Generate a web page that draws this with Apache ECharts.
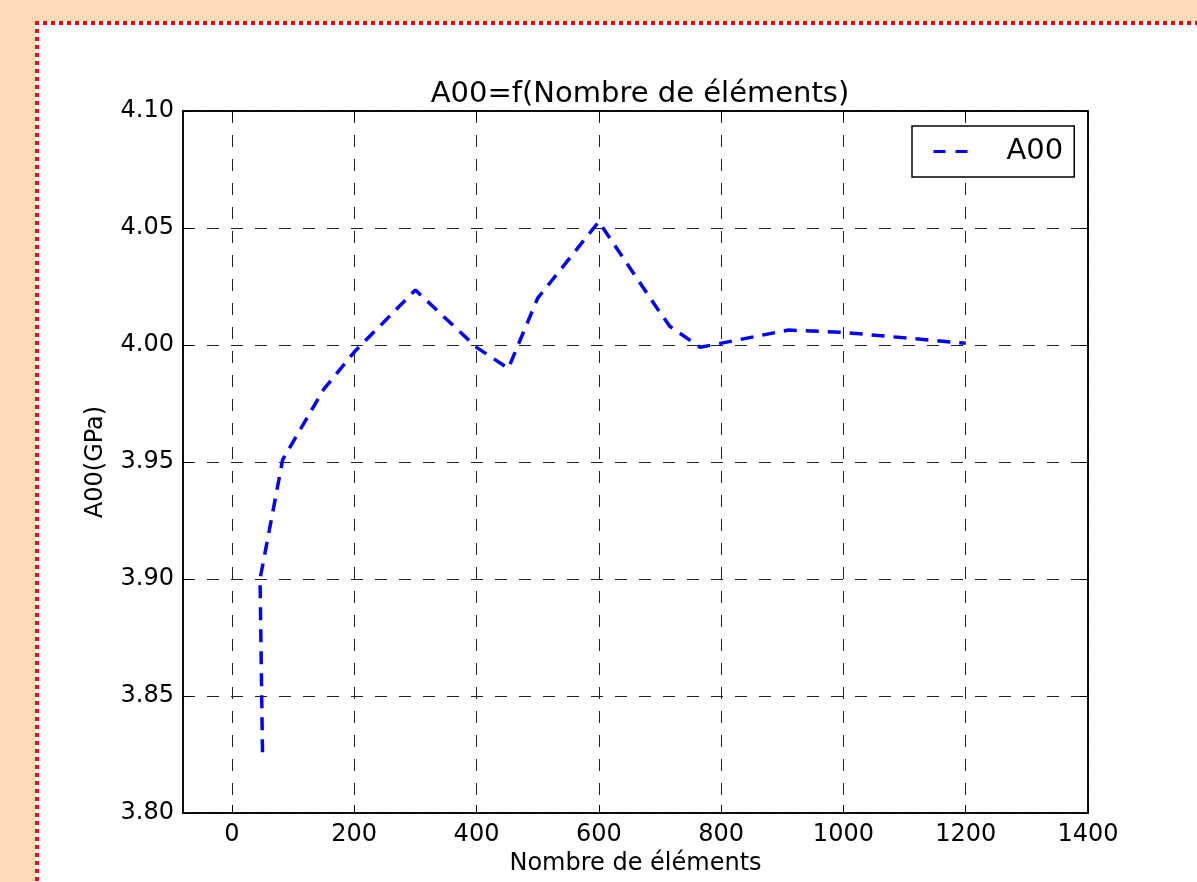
<!DOCTYPE html>
<html>
<head>
<meta charset="utf-8">
<script src="https://cdn.jsdelivr.net/npm/echarts@6/dist/echarts.min.js"></script>
<style>
  html, body { margin: 0; padding: 0; overflow: hidden; background: #FFDAB9; }
  #frame { position: absolute; left: 35px; top: 21px; width: 1300px; height: 1000px; background: #ffffff; }
  #topDots { position: absolute; left: 35px; top: 21px; width: 1300px; height: 4px;
             background: repeating-linear-gradient(to right, #ff0000 0px, #ff0000 4px, transparent 4px, transparent 8px); }
  #leftDots { position: absolute; left: 35px; top: 21px; width: 4px; height: 1000px;
              background: repeating-linear-gradient(to bottom, #ff0000 0px, #ff0000 4px, transparent 4px, transparent 8px); }
  #chart { position: absolute; left: 0; top: 0; width: 1197px; height: 882px; }
</style>
</head>
<body>
<div id="frame"></div>
<div id="topDots"></div>
<div id="leftDots"></div>
<div id="chart"></div>
<script>
// ---- data ----
const seriesName = 'A00';
const nbElements = [50, 46, 62, 83, 150, 200, 300, 400, 452, 500, 600, 692, 716, 766, 910, 1000, 1200];
const a00Values  = [3.826, 3.900, 3.922, 3.951, 3.981, 3.997, 4.0235, 3.999, 3.990, 4.020, 4.0527, 4.017, 4.008, 3.999, 4.0064, 4.0054, 4.0007];
const xTicks = [0, 200, 400, 600, 800, 1000, 1200, 1400];
const titleText = 'A00=f(Nombre de éléments)';
const xName = 'Nombre de éléments';
const yName = 'A00(GPa)';

const points = nbElements.map((x, i) => [x, a00Values[i]]);
const FONT = 'DejaVu Sans';
const gridLine = { show: true, lineStyle: { color: '#222', width: 1, type: [12, 12] } };
const tickIn = { show: true, inside: true, length: 8, lineStyle: { color: '#000', width: 1 } };

const chart = echarts.init(document.getElementById('chart'));
chart.setOption({
  animation: false,
  textStyle: { fontFamily: FONT, color: '#000' },
  title: {
    text: titleText, left: 635, textAlign: 'center', top: 75,
    textStyle: { fontFamily: FONT, fontSize: 29, fontWeight: 'normal', color: '#000' }
  },
  legend: {
    left: 912, top: 126,
    padding: [11, 11, 11, 20],
    itemWidth: 36, itemHeight: 14,
    borderColor: '#000', borderWidth: 1.5, borderRadius: 0,
    backgroundColor: '#fff',
    itemStyle: { opacity: 0 },
    lineStyle: { color: '#0000ff', width: 3, type: [12, 10], opacity: 1 },
    textStyle: { fontFamily: FONT, fontSize: 29, color: '#000', padding: [0, 0, 0, 32] },
    data: [seriesName]
  },
  grid: {
    left: 183, top: 111, right: 109, bottom: 69,
    show: true, backgroundColor: '#fff', borderColor: '#000', borderWidth: 1.5
  },
  xAxis: [{
    type: 'value', min: -80, max: 1400,
    name: xName, nameLocation: 'middle', nameGap: 38,
    nameTextStyle: { fontFamily: FONT, fontSize: 24, color: '#000' },
    axisLine: { show: true, onZero: false, lineStyle: { color: '#000', width: 1.5 } },
    axisTick: Object.assign({ customValues: xTicks }, tickIn),
    axisLabel: { customValues: xTicks, fontFamily: FONT, fontSize: 24, color: '#000', margin: 10,
                 formatter: v => String(v) },
    splitLine: gridLine
  }, {
    type: 'value', min: -80, max: 1400, position: 'top',
    axisLine: { show: true, onZero: false, lineStyle: { color: '#000', width: 1.5 } },
    axisTick: Object.assign({ customValues: xTicks }, tickIn),
    axisLabel: { show: false },
    splitLine: { show: false }
  }],
  yAxis: [{
    type: 'value', min: 3.8, max: 4.1, interval: 0.05,
    name: yName, nameLocation: 'middle', nameGap: 75,
    nameTextStyle: { fontFamily: FONT, fontSize: 24, color: '#000' },
    axisLine: { show: true, onZero: false, lineStyle: { color: '#000', width: 1.5 } },
    axisTick: tickIn,
    axisLabel: { fontFamily: FONT, fontSize: 24, color: '#000', margin: 9,
                 formatter: v => v.toFixed(2) },
    splitLine: gridLine
  }, {
    type: 'value', min: 3.8, max: 4.1, interval: 0.05, position: 'right',
    axisLine: { show: true, onZero: false, lineStyle: { color: '#000', width: 1.5 } },
    axisTick: tickIn,
    axisLabel: { show: false },
    splitLine: { show: false }
  }],
  series: [{
    name: seriesName, type: 'line', data: points,
    xAxisIndex: 0, yAxisIndex: 0,
    showSymbol: false, symbol: 'none',
    itemStyle: { color: '#0000ff' },
    lineStyle: { color: '#0000ff', width: 3.5, type: [13, 9] }
  }]
});
</script>
</body>
</html>
